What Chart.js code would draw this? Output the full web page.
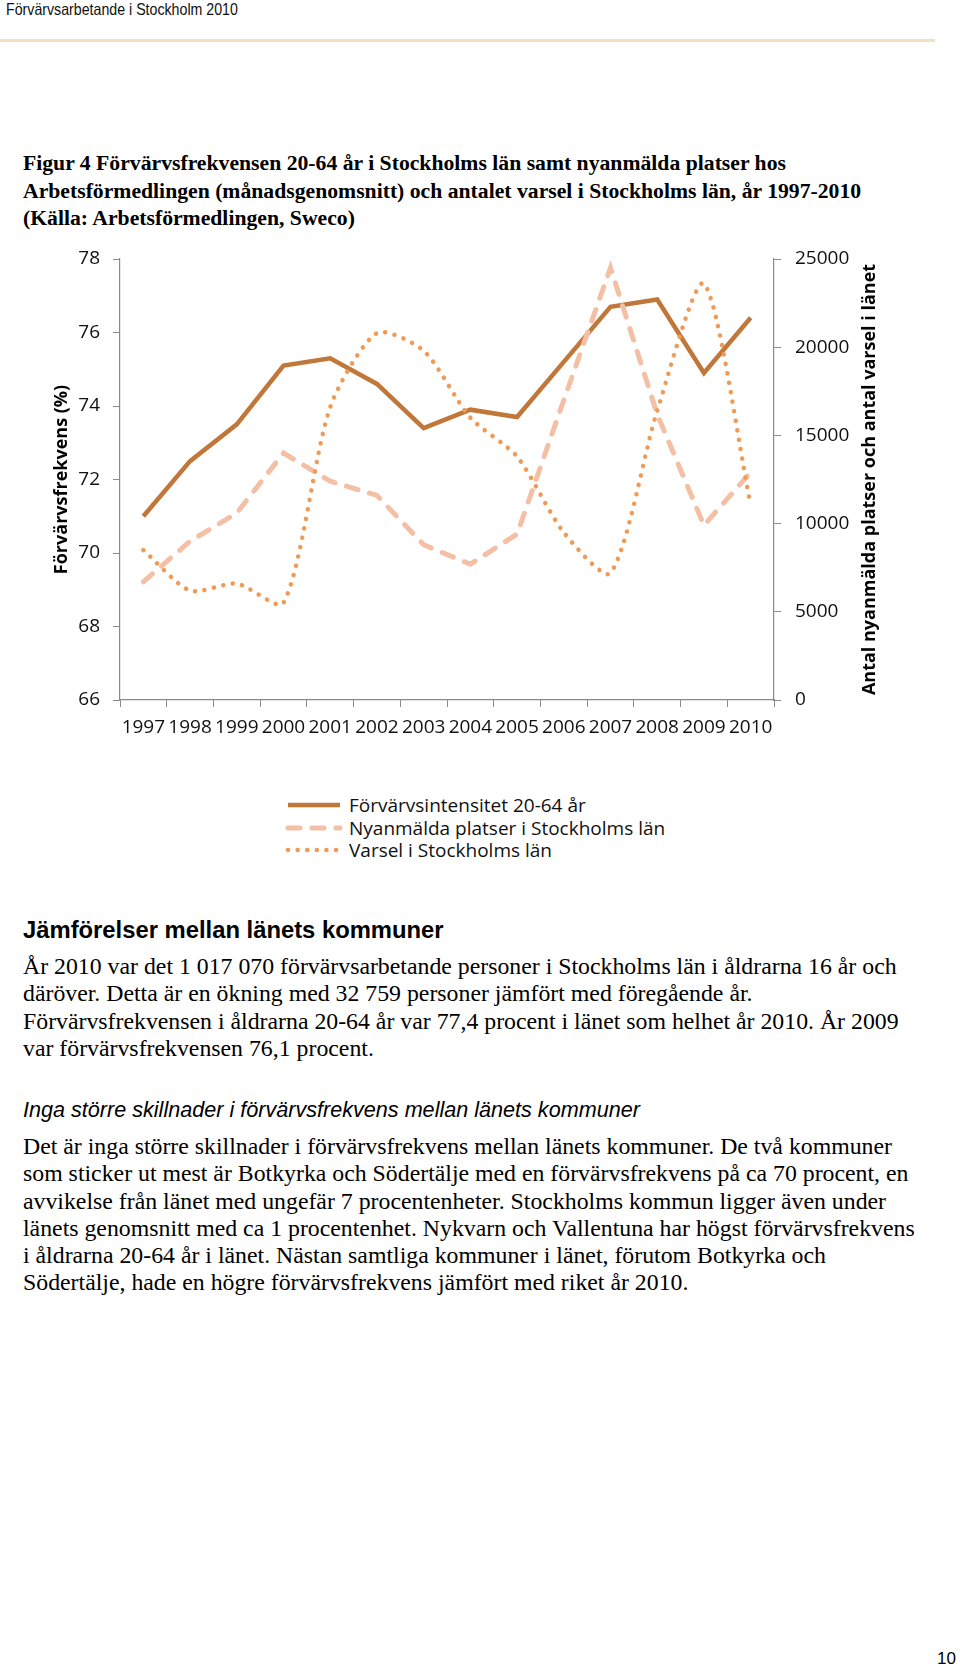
<!DOCTYPE html>
<html lang="sv">
<head>
<meta charset="utf-8">
<title>Förvärvsarbetande i Stockholm 2010</title>
<script src="https://cdn.jsdelivr.net/npm/chart.js@4.4.1/dist/chart.umd.min.js"></script>
<style>
  html, body { margin: 0; padding: 0; background: #fff; }
  body { width: 960px; height: 1666px; position: relative; overflow: hidden; color: #000; }
  .abs { position: absolute; white-space: nowrap; }
  #header { left: 6px; top: 0px; font: 16.5px "Liberation Sans", Arial, sans-serif; line-height: 19px; color: #111;
            transform: scaleX(0.86); transform-origin: 0 0; }
  #rule { left: 0; top: 39px; width: 935px; height: 3px; background: #f0dfc0; }
  #caption { left: 23px; top: 150px; font: bold 21.7px "Liberation Serif", "Times New Roman", serif; line-height: 27.5px; }
  #chartBox { left: 0; top: 230px; width: 960px; height: 540px; }
  #legend { left: 285px; top: 794px; font: 19px "Open Sans", sans-serif; line-height: 22.5px; color: #111; }
  #legend .row { display: flex; align-items: center; height: 22.5px; }
  #legend svg { margin-right: 6px; }
  #h2 { left: 23px; top: 916px; font: bold 23.8px "Liberation Sans", Arial, sans-serif; line-height: 28px; }
  .para { left: 23px; font: 23.8px "Liberation Serif", "Times New Roman", serif; line-height: 27.3px; }
  #p1 { top: 953px; }
  #h3 { left: 23px; top: 1097px; font: italic 21.6px "Liberation Sans", Arial, sans-serif; line-height: 26px; }
  #p2 { top: 1133px; }
  #pageno { right: 4px; top: 1648px; font: 17px "Liberation Sans", Arial, sans-serif; line-height: 22px; }
</style>
</head>
<body>

<div id="header" class="abs">Förvärvsarbetande i Stockholm 2010</div>
<div id="rule" class="abs"></div>

<div id="caption" class="abs">Figur 4 Förvärvsfrekvensen 20-64 år i Stockholms län samt nyanmälda platser hos<br>Arbetsförmedlingen (månadsgenomsnitt) och antalet varsel i Stockholms län, år 1997-2010<br>(Källa: Arbetsförmedlingen, Sweco)</div>

<div id="chartBox" class="abs"><canvas id="chart" width="960" height="540"></canvas></div>

<div id="legend" class="abs"></div>

<div id="h2" class="abs">Jämförelser mellan länets kommuner</div>
<div id="p1" class="abs para">År 2010 var det 1 017 070 förvärvsarbetande personer i Stockholms län i åldrarna 16 år och<br>däröver. Detta är en ökning med 32 759 personer jämfört med föregående år.<br>Förvärvsfrekvensen i åldrarna 20-64 år var 77,4 procent i länet som helhet år 2010. År 2009<br>var förvärvsfrekvensen 76,1 procent.</div>

<div id="h3" class="abs">Inga större skillnader i förvärvsfrekvens mellan länets kommuner</div>
<div id="p2" class="abs para">Det är inga större skillnader i förvärvsfrekvens mellan länets kommuner. De två kommuner<br>som sticker ut mest är Botkyrka och Södertälje med en förvärvsfrekvens på ca 70 procent, en<br>avvikelse från länet med ungefär 7 procentenheter. Stockholms kommun ligger även under<br>länets genomsnitt med ca 1 procentenhet. Nykvarn och Vallentuna har högst förvärvsfrekvens<br>i åldrarna 20-64 år i länet. Nästan samtliga kommuner i länet, förutom Botkyrka och<br>Södertälje, hade en högre förvärvsfrekvens jämfört med riket år 2010.</div>

<div id="pageno" class="abs">10</div>

<script>
// data
var years = ['1997', '1998', '1999', '2000', '2001', '2002', '2003', '2004', '2005', '2006', '2007', '2008', '2009', '2010'];
var forvarvsfrekvens = [71.0, 72.5, 73.5, 75.1, 75.3, 74.6, 73.4, 73.9, 73.7, 75.2, 76.7, 76.9, 74.9, 76.4]; // %, left axis
var nyanmalda = [6700, 9000, 10600, 14000, 12400, 11600, 8800, 7700, 9400, 17000, 24500, 16200, 9900, 12900]; // right axis
var varsel = [8500, 6200, 6600, 5500, 16600, 20800, 19800, 16000, 13800, 9500, 7200, 16400, 23600, 11100]; // right axis
var seriesNames = ['Förvärvsintensitet 20-64 år', 'Nyanmälda platser i Stockholms län', 'Varsel i Stockholms län'];
var leftTicks = [66, 68, 70, 72, 74, 76, 78];
var rightTicks = [0, 5000, 10000, 15000, 20000, 25000];
var leftTitle = 'Förvärvsfrekvens (%)';
var rightTitle = 'Antal nyanmälda platser och antal varsel i länet';

var SOLID = '#c1773a';
var DASHED = '#f3c0a6';
var DOTTED = '#ef9b57';
var AXIS = '#8a8a8a';
var tickFont = { family: 'Open Sans', size: 19 };

// axis titles, right one reads bottom-to-top like the original
var axisTitles = {
  id: 'axisTitles',
  afterDraw: function(chart) {
    var ctx = chart.ctx, area = chart.chartArea;
    var cy = (area.top + area.bottom) / 2;
    ctx.save();
    ctx.font = 'bold 18px "Open Sans"';
    ctx.fillStyle = '#000';
    ctx.textAlign = 'center';
    ctx.textBaseline = 'middle';
    ctx.translate(chart.scales.y.left + 62, cy);
    ctx.rotate(-Math.PI / 2);
    ctx.fillText(leftTitle, 0, 0);
    ctx.restore();
    ctx.save();
    ctx.font = 'bold 18px "Open Sans"';
    ctx.fillStyle = '#000';
    ctx.textAlign = 'center';
    ctx.textBaseline = 'middle';
    ctx.translate(chart.scales.y2.left + 96, cy);
    ctx.rotate(-Math.PI / 2);
    ctx.fillText(rightTitle, 0, 0);
    ctx.restore();
  }
};

var chart = new Chart(document.getElementById('chart'), {
  type: 'line',
  data: {
    labels: years,
    datasets: [{
      label: seriesNames[0],
      data: forvarvsfrekvens,
      yAxisID: 'y',
      borderColor: SOLID,
      borderWidth: 4.5,
      borderJoinStyle: 'miter',
      tension: 0,
      pointRadius: 0,
      order: 3
    }, {
      label: seriesNames[1],
      data: nyanmalda,
      yAxisID: 'y2',
      borderColor: DASHED,
      borderWidth: 5,
      borderDash: [12, 12],
      borderCapStyle: 'round',
      tension: 0,
      pointRadius: 0,
      order: 2
    }, {
      label: seriesNames[2],
      data: varsel,
      yAxisID: 'y2',
      borderColor: DOTTED,
      borderWidth: 4.5,
      borderDash: [0.1, 9.5],
      borderCapStyle: 'round',
      tension: 0.25,
      pointRadius: 0,
      order: 1
    }]
  },
  options: {
    responsive: false,
    animation: false,
    layout: { padding: { top: 29, left: 0, right: 0, bottom: 0 } },
    plugins: {
      legend: { display: false },
      tooltip: { enabled: false }
    },
    scales: {
      x: {
        offset: true,
        grid: { display: true, offset: true, drawOnChartArea: false, tickLength: 7, color: AXIS },
        border: { display: true, color: AXIS, width: 1.2 },
        ticks: { font: tickFont, color: '#111', padding: 9, maxRotation: 0, autoSkip: false },
        afterFit: function(scale) { scale.height = 70; }
      },
      y: {
        position: 'left',
        min: 66, max: 78,
        afterBuildTicks: function(scale) { scale.ticks = leftTicks.map(function(v) { return { value: v }; }); },
        grid: { display: true, drawOnChartArea: false, tickLength: 7, color: AXIS },
        border: { display: true, color: AXIS, width: 1.2 },
        ticks: { font: tickFont, color: '#111', padding: 13 },
        afterFit: function(scale) { scale.width = 120; }
      },
      y2: {
        position: 'right',
        min: 0, max: 25000,
        afterBuildTicks: function(scale) { scale.ticks = rightTicks.map(function(v) { return { value: v }; }); },
        grid: { display: true, drawOnChartArea: false, tickLength: 7, color: AXIS },
        border: { display: true, color: AXIS, width: 1.2 },
        ticks: { font: tickFont, color: '#111', padding: 14, callback: function(v) { return String(v); } },
        afterFit: function(scale) { scale.width = 186; }
      }
    }
  },
  plugins: [axisTitles]
});

// legend below the chart, one series per row
var legendBox = document.getElementById('legend');
chart.data.datasets.forEach(function(ds) {
  var row = document.createElement('div');
  row.className = 'row';
  var dash = ds.borderDash ? ds.borderDash.join(' ') : 'none';
  var cap = ds.borderCapStyle || 'butt';
  row.innerHTML = '<svg width="58" height="10"><line x1="3" y1="5" x2="55" y2="5" stroke="' + ds.borderColor +
    '" stroke-width="' + ds.borderWidth + '" stroke-dasharray="' + dash + '" stroke-linecap="' + cap + '"/></svg>';
  var txt = document.createElement('span');
  txt.textContent = ds.label;
  row.appendChild(txt);
  legendBox.appendChild(row);
});
</script>
</body>
</html>
